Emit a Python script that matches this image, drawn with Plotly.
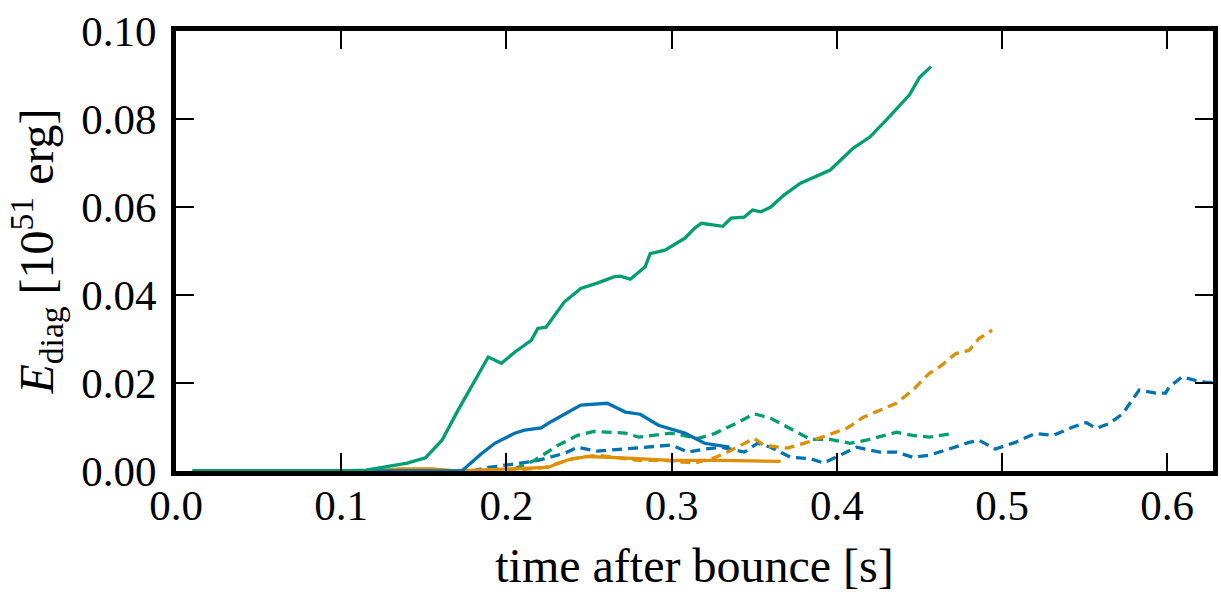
import plotly.graph_objects as go

# ---- data (time after bounce [s], E_diag [1e51 erg]) ----
green_solid_t = [0.010, 0.05, 0.10, 0.115, 0.125, 0.140, 0.151, 0.161, 0.171, 0.181, 0.189, 0.197, 0.205, 0.215,
                 0.219, 0.224, 0.235, 0.245, 0.255, 0.265, 0.269, 0.275, 0.284, 0.287, 0.296, 0.308,
                 0.314, 0.318, 0.331, 0.336, 0.344, 0.349, 0.354, 0.360, 0.368, 0.378, 0.396, 0.410,
                 0.420, 0.430, 0.444, 0.450, 0.457]
green_solid_e = [0.0, 0.0, 0.0, 0.0002, 0.0008, 0.0018, 0.0030, 0.0070, 0.0140, 0.0207, 0.0259, 0.0245, 0.0270, 0.0297,
                 0.0324, 0.0327, 0.0384, 0.0415, 0.0427, 0.0441, 0.0443, 0.0436, 0.0464, 0.0494, 0.0502, 0.0529,
                 0.0552, 0.0563, 0.0556, 0.0575, 0.0577, 0.0593, 0.0589, 0.0600, 0.0627, 0.0654, 0.0684, 0.0734,
                 0.0759, 0.0798, 0.0855, 0.0894, 0.0919]

blue_solid_t = [0.010, 0.173, 0.185, 0.193, 0.205, 0.211, 0.221, 0.227, 0.245, 0.261, 0.272, 0.281, 0.292,
                0.308, 0.320, 0.335]
blue_solid_e = [0.0, 0.0, 0.0040, 0.0063, 0.0086, 0.0093, 0.0098, 0.0112, 0.0150, 0.0154, 0.0134, 0.0129, 0.0104,
                0.0086, 0.0063, 0.0054]

orange_solid_t = [0.010, 0.120, 0.135, 0.155, 0.170, 0.225, 0.237, 0.249, 0.270, 0.300, 0.330, 0.366]
orange_solid_e = [0.0, 0.0, 0.0005, 0.0005, 0.0, 0.0008, 0.0025, 0.0033, 0.0030, 0.0024, 0.0024, 0.0022]

green_dash_t = [0.205, 0.217, 0.231, 0.243, 0.253, 0.272, 0.280, 0.300, 0.316, 0.326, 0.340, 0.350, 0.360,
                0.372, 0.384, 0.396, 0.408, 0.418, 0.428, 0.436, 0.446, 0.456, 0.470]
green_dash_e = [0.0005, 0.0024, 0.0058, 0.0081, 0.0090, 0.0086, 0.0077, 0.0086, 0.0074, 0.0085, 0.0110, 0.0130,
                0.0120, 0.0097, 0.0072, 0.0072, 0.0063, 0.0070, 0.0081, 0.0088, 0.0081, 0.0077, 0.0085]

blue_dash_t = [0.179, 0.189, 0.207, 0.219, 0.235, 0.243, 0.255, 0.272, 0.287, 0.300, 0.310, 0.320, 0.330, 0.344,
               0.352, 0.360, 0.372, 0.384, 0.392, 0.402, 0.412, 0.426, 0.436, 0.446, 0.456, 0.468, 0.480,
               0.486, 0.496, 0.508, 0.520, 0.531, 0.543, 0.551, 0.557, 0.565, 0.573, 0.583, 0.593, 0.599,
               0.601, 0.609, 0.617, 0.623, 0.630]
blue_dash_e = [0.0, 0.0008, 0.0017, 0.0024, 0.0040, 0.0054, 0.0045, 0.0050, 0.0054, 0.0059, 0.0043, 0.0050,
               0.0054, 0.0043, 0.0063, 0.0054, 0.0031, 0.0028, 0.0018, 0.0036, 0.0054, 0.0043, 0.0043, 0.0031,
               0.0036, 0.0050, 0.0065, 0.0070, 0.0050, 0.0065, 0.0085, 0.0081, 0.0100, 0.0110, 0.0097, 0.0108,
               0.0130, 0.0184, 0.0177, 0.0177, 0.0190, 0.0214, 0.0206, 0.0202, 0.0200]

orange_dash_t = [0.200, 0.223, 0.240, 0.255, 0.280, 0.296, 0.314, 0.326, 0.336, 0.350, 0.356, 0.370, 0.382,
                 0.394, 0.406, 0.416, 0.428, 0.436, 0.446, 0.456, 0.462, 0.472, 0.480, 0.486, 0.494]
orange_dash_e = [0.0, 0.0008, 0.0028, 0.0036, 0.0024, 0.0024, 0.0018, 0.0030, 0.0047, 0.0074, 0.0058, 0.0052,
                 0.0065, 0.0081, 0.0097, 0.0122, 0.0142, 0.0154, 0.0184, 0.0222, 0.0236, 0.0267, 0.0274,
                 0.0301, 0.0320]

x_ticks = [0.0, 0.1, 0.2, 0.3, 0.4, 0.5, 0.6]
y_ticks = [0.00, 0.02, 0.04, 0.06, 0.08, 0.10]

BLUE = "#0173b2"
ORANGE = "#de8f05"
GREEN = "#029e73"

fig = go.Figure()
series = [
    (blue_dash_t, blue_dash_e, BLUE, "dash"),
    (green_dash_t, green_dash_e, GREEN, "dash"),
    (orange_dash_t, orange_dash_e, ORANGE, "dash"),
    (orange_solid_t, orange_solid_e, ORANGE, "solid"),
    (blue_solid_t, blue_solid_e, BLUE, "solid"),
    (green_solid_t, green_solid_e, GREEN, "solid"),
]
for t, e, c, d in series:
    fig.add_trace(go.Scatter(
        x=t, y=e, mode="lines",
        line=dict(color=c, width=3.3, dash="10px,6px" if d == "dash" else "solid"),
        showlegend=False, hoverinfo="skip"))

FONT = "Liberation Serif, Times New Roman, serif"
fig.update_layout(
    width=1221, height=592,
    margin=dict(l=176, r=3, t=31, b=121),
    paper_bgcolor="white", plot_bgcolor="white",
    font=dict(family=FONT, size=43, color="black"),
    showlegend=False,
)
fig.update_xaxes(
    range=[0, 0.6277], tickvals=x_ticks, ticktext=[f"{v:.1f}" for v in x_ticks],
    showgrid=False, zeroline=False,
    showline=True, linecolor="black", linewidth=5, mirror="allticks",
    ticks="inside", ticklen=18, tickwidth=2, tickcolor="black",
    tickfont=dict(family=FONT, size=43), ticklabelstandoff=-8,
    title=dict(text="time after bounce [s]", font=dict(family=FONT, size=48), standoff=23),
)
fig.update_yaxes(
    range=[0, 0.1], tickvals=y_ticks, ticktext=[f"{v:.2f}" for v in y_ticks],
    showgrid=False, zeroline=False,
    showline=True, linecolor="black", linewidth=5, mirror="allticks",
    ticks="inside", ticklen=18, tickwidth=2, tickcolor="black",
    tickfont=dict(family=FONT, size=43), ticklabelstandoff=6,
    title=dict(text="<i>E</i><sub>diag</sub> [10<sup>51</sup> erg]", font=dict(family=FONT, size=48), standoff=14),
)

fig.write_html("out.html")
